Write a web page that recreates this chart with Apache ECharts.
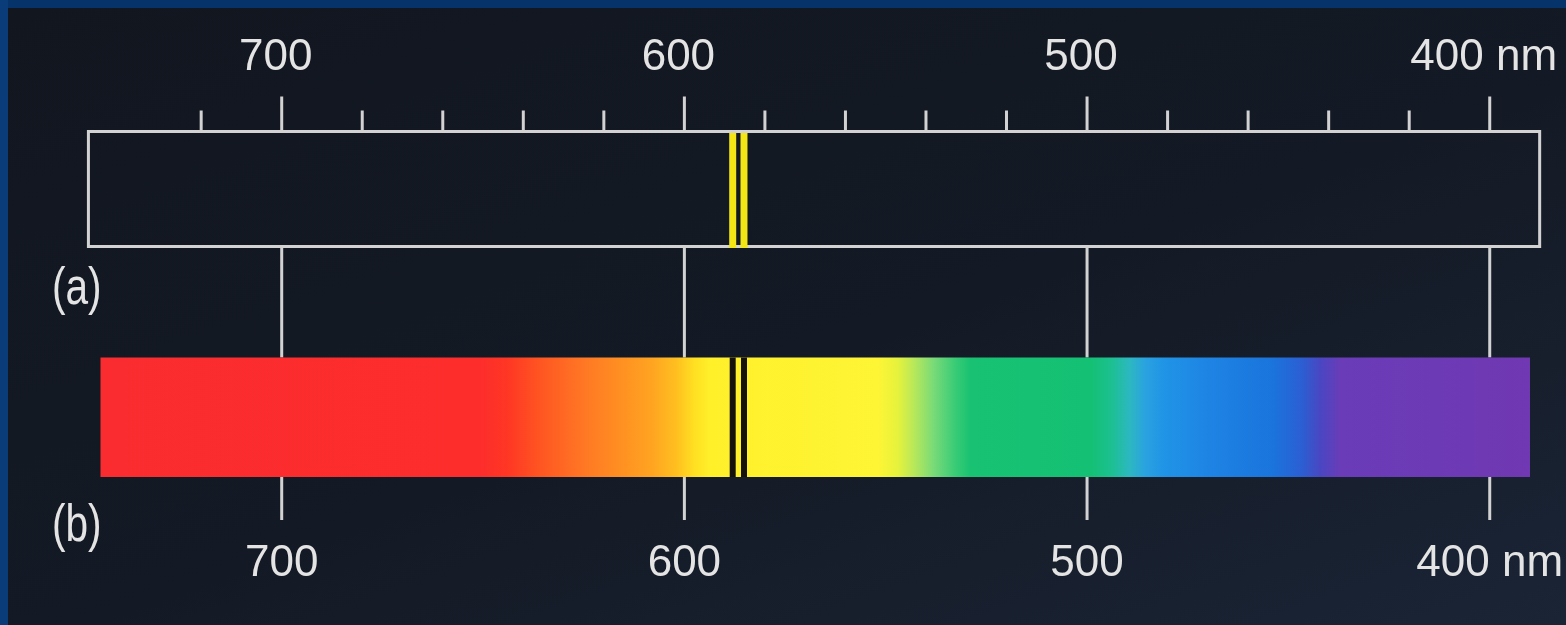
<!DOCTYPE html>
<html>
<head>
<meta charset="utf-8">
<title>Sodium emission and absorption spectra</title>
<script src="https://cdn.jsdelivr.net/npm/echarts@6/dist/echarts.min.js"></script>
<style>
  html, body { margin: 0; padding: 0; }
  body { width: 1566px; height: 625px; overflow: hidden; }
  #chart {
    width: 1566px; height: 625px;
    background: linear-gradient(160deg, #11161f 0%, #141a25 55%, #1a2435 100%);
  }
</style>
</head>
<body>
<div id="chart"></div>
<script>
// Wavelength range shown by the continuous spectrum (nm)
const spectrumRange = [745, 390];
// Outline of the emission panel (a), in nm
const emissionPanel = [748, 387.6];
// Sodium D lines: bright in emission (a), dark in absorption (b)
const sodiumLines = [588.0, 585.2];
// Scale ticks (nm)
const minorTicks = [720, 680, 660, 640, 620, 580, 560, 540, 520, 480, 460, 440, 420];
const majorTicks = [700, 600, 500, 400];
// Colour of the continuous spectrum at each wavelength (nm)
const spectrumNm = [744.6, 650.8, 644, 636, 626, 616, 608, 602, 597.5, 593.5, 552, 547, 543, 538, 533, 529, 499, 494, 489.5, 485.5, 481, 470, 454, 446.5, 442, 437, 390];
const spectrumColors = ['#fb2c2f', '#fd2d2c', '#ff3624', '#ff5522', '#ff7424', '#ff8f22', '#ffa421', '#ffbf20', '#ffe022', '#fff02a', '#fef535', '#e6f23c', '#b8e85a', '#78da78', '#3ccc76', '#18c272', '#14c074', '#1cc090', '#2cb8c0', '#2aa2e0', '#2094e6', '#1e84e4', '#1a74dc', '#2c5ed2', '#4a46c2', '#6a3cb8', '#7038b2'];

const labelColor = '#e4e4e4';
const lineColor = '#d2d2d2';
const numFont = 'Liberation Sans, Arial, sans-serif';

// Vertical layout of the two panels (px)
const GRID_TOP = 131.5, GRID_BOTTOM = 520;
const BOX_BOTTOM = 246.5;
const SPEC_TOP = 357.5, SPEC_BOTTOM = 477;
const MINOR_LEN = 21, MAJOR_LEN = 35;

const chart = echarts.init(document.getElementById('chart'), null, { renderer: 'canvas' });

function nmLabel(v) { return v === 400 ? '400 nm' : String(v); }

// Vertical stroke at one wavelength, between two pixel heights
function vline(x, y1, y2) {
  return { type: 'line', shape: { x1: x, y1: y1, x2: x, y2: y2 }, style: { stroke: lineColor, lineWidth: 3 } };
}

const option = {
  backgroundColor: 'transparent',
  animation: false,
  grid: {
    left: 100.5, right: 36, top: GRID_TOP, bottom: 625 - GRID_BOTTOM,
    containLabel: false, outerBoundsMode: 'none'
  },
  xAxis: [
    {
      type: 'value', position: 'top', inverse: true,
      min: spectrumRange[1], max: spectrumRange[0],
      axisLine: { show: false }, splitLine: { show: false },
      axisTick: { show: false },
      axisLabel: {
        show: true, customValues: majorTicks, formatter: nmLabel,
        color: labelColor, fontSize: 44, fontFamily: numFont, margin: 52,
        padding: [0, 12, 0, 0]
      }
    },
    {
      type: 'value', position: 'bottom', inverse: true,
      min: spectrumRange[1], max: spectrumRange[0],
      axisLine: { show: false }, splitLine: { show: false },
      axisTick: { show: false },
      axisLabel: {
        show: true, customValues: majorTicks, formatter: nmLabel,
        color: labelColor, fontSize: 44, fontFamily: numFont, margin: 22
      }
    }
  ],
  yAxis: { type: 'value', min: 0, max: 1, show: false },
  graphic: [
    { type: 'rect', left: 0, top: 0, shape: { width: 1566, height: 8 }, style: { fill: '#06336a' }, silent: true },
    { type: 'rect', left: 0, top: 0, shape: { width: 8, height: 625 }, style: { fill: '#0a3c7a' }, silent: true },
    { type: 'text', x: 52, y: 264, scaleX: 0.78, style: { text: '(a)', fill: labelColor, font: '52px "Liberation Sans", Arial, sans-serif' } },
    { type: 'text', x: 52, y: 501, scaleX: 0.78, style: { text: '(b)', fill: labelColor, font: '52px "Liberation Sans", Arial, sans-serif' } }
  ],
  series: [
    // Short scale ticks
    {
      type: 'custom', xAxisIndex: 0, clip: false, silent: true,
      data: minorTicks.map(v => [v]), encode: { x: 0 },
      renderItem: function (params, api) {
        const x = api.coord([api.value(0), 0])[0];
        return vline(x, GRID_TOP - MINOR_LEN, GRID_TOP);
      }
    },
    // Long ticks at the labelled wavelengths and the connectors running down from them
    {
      type: 'custom', xAxisIndex: 0, clip: false, silent: true,
      data: majorTicks.map(v => [v]), encode: { x: 0 },
      renderItem: function (params, api) {
        const x = api.coord([api.value(0), 0])[0];
        return {
          type: 'group', children: [
            vline(x, GRID_TOP - MAJOR_LEN, GRID_TOP),
            vline(x, BOX_BOTTOM, SPEC_TOP),
            vline(x, SPEC_BOTTOM, GRID_BOTTOM)
          ]
        };
      }
    },
    // (a) emission panel outline
    {
      type: 'custom', xAxisIndex: 0, clip: false, silent: true,
      data: [emissionPanel], encode: { x: [0, 1] },
      renderItem: function (params, api) {
        const x1 = api.coord([api.value(0), 0])[0];
        const x2 = api.coord([api.value(1), 0])[0];
        return {
          type: 'rect', z2: 5,
          shape: { x: x1, y: GRID_TOP, width: x2 - x1, height: BOX_BOTTOM - GRID_TOP },
          style: { fill: 'none', stroke: lineColor, lineWidth: 3 }
        };
      }
    },
    // (a) bright sodium lines
    {
      type: 'custom', xAxisIndex: 0, clip: false, silent: true,
      data: sodiumLines.map(v => [v]), encode: { x: 0 },
      renderItem: function (params, api) {
        const x = api.coord([api.value(0), 0])[0];
        return {
          type: 'rect', z2: 10,
          shape: { x: x - 3.5, y: GRID_TOP + 1.5, width: 7, height: BOX_BOTTOM - GRID_TOP },
          style: { fill: '#f4e614' }
        };
      }
    },
    // (b) continuous spectrum
    {
      type: 'custom', xAxisIndex: 0, clip: false, silent: true,
      data: [spectrumRange], encode: { x: [0, 1] },
      renderItem: function (params, api) {
        const x1 = api.coord([api.value(0), 0])[0];
        const x2 = api.coord([api.value(1), 0])[0];
        const w = x2 - x1;
        const stops = spectrumNm.map((nm, i) => ({
          offset: Math.min(1, Math.max(0, (api.coord([nm, 0])[0] - x1) / w)),
          color: spectrumColors[i]
        }));
        return {
          type: 'rect', z2: 5,
          shape: { x: x1, y: SPEC_TOP, width: w, height: SPEC_BOTTOM - SPEC_TOP },
          style: { fill: new echarts.graphic.LinearGradient(0, 0, 1, 0, stops) }
        };
      }
    },
    // (b) dark sodium absorption lines
    {
      type: 'custom', xAxisIndex: 0, clip: false, silent: true,
      data: sodiumLines.map(v => [v]), encode: { x: 0 },
      renderItem: function (params, api) {
        const x = api.coord([api.value(0), 0])[0];
        return {
          type: 'rect', z2: 10,
          shape: { x: x - 3, y: SPEC_TOP, width: 6, height: SPEC_BOTTOM - SPEC_TOP },
          style: { fill: '#14120a' }
        };
      }
    }
  ]
};

chart.setOption(option);
</script>
</body>
</html>
